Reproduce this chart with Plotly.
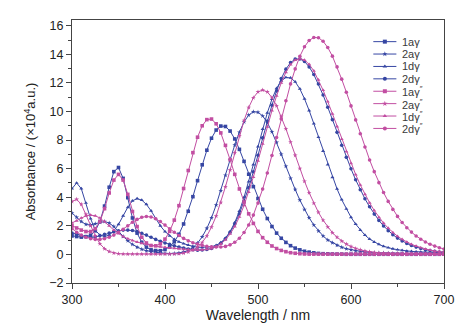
import plotly.graph_objects as go

wavelength = list(range(300, 705, 5))

s_1a = [1.30,1.25,1.21,1.24,1.35,1.65,2.30,3.38,4.70,5.79,
        6.08,5.32,3.97,2.55,1.49,0.85,0.51,0.32,0.27,0.26,
        0.34,0.54,0.88,1.41,2.13,3.02,4.04,5.16,6.27,7.29,
        8.13,8.70,8.98,8.95,8.63,8.08,7.35,6.51,5.61,4.74,
        3.91,3.16,2.51,1.95,1.49,1.13,0.84,0.61,0.44,0.32,
        0.22,0.16,0.11,0.07,0.05,0.04,0.03,0.02,0.02,0.01,
        0.01,0.01,0.01,0.01,0.01,0.01,0.01,0.01,0.01,0.01,0.01,0.01,0.01,0.01,0.01,0.01,0.01,0.01,0.01,0.01,0.01]
s_2a = [2.90,2.60,2.30,2.10,2.05,2.15,2.25,2.30,2.20,1.95,
        1.60,1.25,0.95,0.70,0.50,0.36,0.26,0.19,0.14,0.10,
        0.07,0.05,0.07,0.10,0.16,0.28,0.48,0.79,1.23,1.82,
        2.56,3.46,4.46,5.54,6.62,7.65,8.55,9.27,9.75,9.98,
        9.95,9.69,9.22,8.58,7.84,7.01,6.17,5.33,4.54,3.80,
        3.14,2.56,2.06,1.64,1.29,1.01,0.82,0.64,0.50,0.40,
        0.32,0.26,0.21,0.17,0.14,0.12,0.10,0.09,0.08,0.07,0.06,0.06,0.05,0.05,0.04,0.04,0.04,0.03,0.03,0.03,0.03]
s_1d = [4.60,5.00,4.60,3.60,2.50,1.70,1.35,1.25,1.35,1.65,
        2.10,2.70,3.30,3.75,3.90,3.80,3.50,3.05,2.50,2.00,
        1.60,1.30,1.05,0.88,0.75,0.65,0.57,0.50,0.50,0.50,
        0.54,0.64,0.83,1.14,1.60,2.23,3.03,4.00,5.10,6.29,
        7.54,8.77,9.90,10.86,11.62,12.14,12.38,12.35,12.08,11.58,
        10.89,10.07,9.15,8.20,7.23,6.28,5.39,4.58,3.83,3.18,
        2.60,2.12,1.70,1.35,1.07,0.86,0.70,0.57,0.47,0.39,0.33,0.28,0.24,0.21,0.19,0.17,0.15,0.14,0.13,0.12,0.11]
s_2d = [1.50,1.40,1.30,1.25,1.20,1.22,1.30,1.40,1.50,1.58,
        1.65,1.70,1.70,1.67,1.60,1.48,1.35,1.20,1.05,0.92,
        0.80,0.70,0.60,0.52,0.45,0.38,0.33,0.30,0.31,0.34,
        0.41,0.55,0.77,1.10,1.54,2.12,2.84,3.69,4.67,5.78,
        6.94,8.15,9.33,10.44,11.44,12.30,12.96,13.42,13.66,13.68,
        13.50,13.12,12.59,11.92,11.15,10.30,9.43,8.54,7.64,6.79,
        5.99,5.22,4.52,3.89,3.33,2.82,2.38,1.99,1.66,1.38,1.14,0.94,0.77,0.62,0.51,0.41,0.33,0.27,0.21,0.17,0.14]
s_1a_p = [2.00,1.85,1.70,1.60,1.60,1.80,2.30,3.20,4.30,5.20,
          5.60,5.20,4.20,3.00,1.95,1.20,0.80,0.62,0.60,0.74,
          1.07,1.61,2.40,3.41,4.61,5.87,7.12,8.20,9.00,9.43,
          9.47,9.14,8.50,7.63,6.63,5.60,4.58,3.66,2.84,2.17,
          1.61,1.17,0.85,0.59,0.41,0.28,0.19,0.12,0.08,0.05,
          0.03,0.02,0.02,0.02,0.02,0.02,0.02,0.02,0.02,0.02,
          0.02,0.02,0.02,0.02,0.02,0.02,0.02,0.02,0.02,0.02,0.02,0.02,0.02,0.02,0.02,0.02,0.02,0.02,0.02,0.02,0.02]
s_2a_p = [3.70,3.85,3.50,2.80,2.00,1.30,0.75,0.40,0.20,0.10,
          0.05,0.03,0.02,0.02,0.02,0.02,0.02,0.02,0.02,0.02,
          0.02,0.02,0.03,0.05,0.09,0.17,0.30,0.51,0.84,1.29,
          1.91,2.68,3.63,4.73,5.90,7.11,8.30,9.37,10.28,10.96,
          11.37,11.50,11.37,10.98,10.40,9.65,8.79,7.87,6.93,6.01,
          5.12,4.31,3.58,2.94,2.39,1.92,1.52,1.20,0.93,0.72,
          0.55,0.42,0.32,0.24,0.18,0.13,0.10,0.08,0.06,0.05,0.04,0.04,0.03,0.03,0.03,0.02,0.02,0.02,0.02,0.02,0.02]
s_1d_p = [2.20,2.35,2.55,2.70,2.75,2.70,2.55,2.30,2.00,1.70,
          1.45,1.25,1.10,0.97,0.87,0.78,0.70,0.64,0.58,0.53,
          0.49,0.45,0.42,0.39,0.36,0.34,0.32,0.30,0.32,0.35,
          0.41,0.53,0.73,1.02,1.43,1.95,2.62,3.43,4.36,5.41,
          6.55,7.74,8.92,10.06,11.10,12.00,12.74,13.28,13.59,13.70,
          13.60,13.30,12.84,12.22,11.49,10.69,9.83,8.95,8.06,7.19,
          6.37,5.59,4.86,4.21,3.61,3.07,2.60,2.19,1.84,1.53,1.27,1.05,0.86,0.71,0.58,0.47,0.38,0.30,0.24,0.20,0.16]
s_2d_p = [1.80,1.55,1.35,1.20,1.10,1.05,1.05,1.10,1.20,1.35,
          1.55,1.75,2.00,2.25,2.45,2.60,2.65,2.62,2.50,2.30,
          2.05,1.80,1.55,1.32,1.12,0.95,0.82,0.72,0.63,0.56,
          0.54,0.52,0.52,0.56,0.67,0.85,1.13,1.53,2.06,2.75,
          3.59,4.57,5.70,6.92,8.18,9.48,10.75,11.93,12.98,13.86,
          14.53,14.97,15.18,15.16,14.91,14.48,13.87,13.12,12.26,11.35,
          10.39,9.41,8.44,7.51,6.61,5.79,5.02,4.33,3.71,3.15,2.66,2.23,1.87,1.56,1.29,1.06,0.87,0.71,0.58,0.47,0.38]

series_names = ["1aγ", "2aγ", "1dγ", "2dγ",
                "1aγ<sup>″</sup>", "2aγ<sup>″</sup>", "1dγ<sup>″</sup>", "2dγ<sup>″</sup>"]
series_values = [s_1a, s_2a, s_1d, s_2d, s_1a_p, s_2a_p, s_1d_p, s_2d_p]

BLUE = "#3646a3"
MAG = "#c24ea2"
colors = [BLUE] * 4 + [MAG] * 4
symbols = ["square", "star", "triangle-up", "circle"] * 2

fig = go.Figure()
for name, vals, c, sym in zip(series_names, series_values, colors, symbols):
    fig.add_trace(go.Scatter(
        x=wavelength, y=vals, name=name, mode="lines+markers",
        line=dict(color=c, width=1),
        marker=dict(symbol=sym, size=3.6, color=c, line=dict(width=0)),
        showlegend=False,
    ))

# compact legend drawn as layout furniture (line sample + marker + label)
y0_px, step_px = 42.0, 12.6
top_px, bot_px = 20.0, 287.3
for i, (name, c, sym) in enumerate(zip(series_names, colors, symbols)):
    yp = (bot_px - (y0_px + step_px * i)) / (bot_px - top_px)
    fig.add_shape(type="line", xref="paper", yref="paper",
                  x0=0.81, x1=0.872, y0=yp, y1=yp, line=dict(color=c, width=1))
    fig.add_trace(go.Scatter(x=[0.841], y=[yp], xaxis="x2", yaxis="y2",
                             mode="markers", showlegend=False, hoverinfo="skip",
                             marker=dict(symbol=sym, size=4, color=c, line=dict(width=0))))
    fig.add_annotation(xref="paper", yref="paper", x=0.882, y=yp, text=name,
                       showarrow=False, font=dict(size=11, color="#3a3a3a", family="Liberation Sans"),
                       xanchor="left", yanchor="middle")

axis_common = dict(
    showline=True, linecolor="#444", linewidth=1, mirror=True,
    ticks="outside", ticklen=5, tickwidth=1, tickcolor="#444",
    showgrid=False, zeroline=False,
    tickfont=dict(family="Liberation Sans", size=12.5, color="#222"),
)
fig.update_xaxes(range=[300, 700], dtick=100, tick0=300,
                 minor=dict(ticks="outside", ticklen=3, dtick=50, tickcolor="#444"),
                 title=dict(text="Wavelength / nm", font=dict(family="Liberation Sans", size=14, color="#222"), standoff=4),
                 **axis_common)
fig.update_yaxes(range=[-2, 16.4], dtick=2, tick0=0,
                 minor=dict(ticks="outside", ticklen=3, dtick=1, tickcolor="#444"),
                 title=dict(text="Absorbance / (×10<sup>4</sup>a.u.)", font=dict(family="Liberation Sans", size=13, color="#222"), standoff=10),
                 **axis_common)
fig.update_layout(
    width=466, height=333,
    margin=dict(l=72, r=20, t=20, b=46),
    plot_bgcolor="white", paper_bgcolor="white",
    xaxis2=dict(overlaying="x", range=[0, 1], visible=False, fixedrange=True),
    yaxis2=dict(overlaying="y", range=[0, 1], visible=False, fixedrange=True),
)
fig.write_html("out.html", config={"displayModeBar": False},
               post_script="document.body.style.margin='0';document.body.style.padding='0';")
